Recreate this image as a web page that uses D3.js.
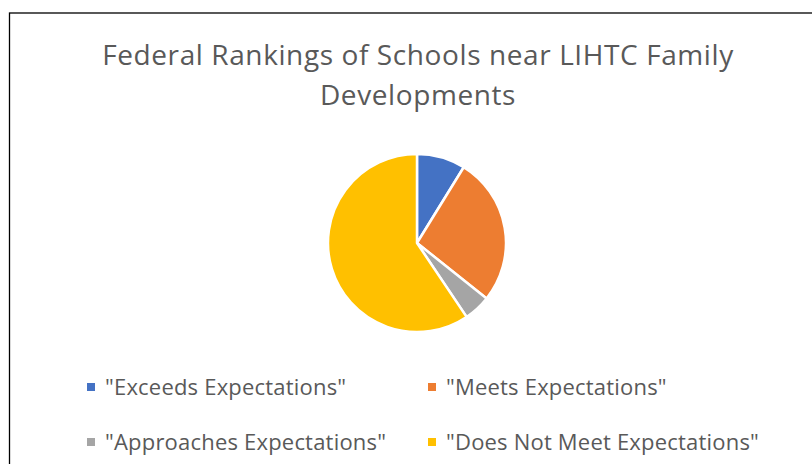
<!DOCTYPE html>
<html>
  <head>
    <meta charset="utf-8" />
    <title>Federal Rankings of Schools near LIHTC Family Developments</title>
    <script src="https://d3js.org/d3.v7.min.js"></script>
    <style>
      body {
        margin: 0;
        background: #fff;
        font-family: "Open Sans", sans-serif;
      }
    </style>
  </head>
  <body>
    <svg width="812" height="464"></svg>

    <script>
      // data
      const categories = [
        '"Exceeds Expectations"',
        '"Meets Expectations"',
        '"Approaches Expectations"',
        '"Does Not Meet Expectations"'
      ];
      const shares = [8.8, 26.9, 4.9, 59.4];
      const colors = ["#4472c4", "#ed7d31", "#a5a5a5", "#ffc000"];
      const titleLines = ["Federal Rankings of Schools near LIHTC Family", "Developments"];

      const svg = d3.select("svg");

      // chart border (runs off the right and bottom edges)
      svg.append("rect")
        .attr("x", 9.5).attr("y", 13)
        .attr("width", 900).attr("height", 600)
        .attr("fill", "#fff")
        .attr("stroke", "#000")
        .attr("stroke-width", 1.3);

      svg.append("g")
        .selectAll("text")
        .data(titleLines)
        .join("text")
        .attr("x", 418)
        .attr("y", (d, i) => 65 + i * 40)
        .attr("text-anchor", "middle")
        .attr("font-size", 28)
        .attr("letter-spacing", 0.6)
        .attr("fill", "#595959")
        .text(d => d);

      // pie
      const cx = 417, cy = 243, r = 89;
      const pie = d3.pie().sort(null).value(d => d);
      const arc = d3.arc().innerRadius(0).outerRadius(r);

      svg.append("g")
        .attr("transform", `translate(${cx},${cy})`)
        .selectAll("path")
        .data(pie(shares))
        .join("path")
        .attr("d", arc)
        .attr("fill", (d, i) => colors[i])
        .attr("stroke", "#fff")
        .attr("stroke-width", 2.5)
        .attr("stroke-linejoin", "round");

      // legend, 2 columns
      const colX = [87, 428];
      const rowY = [387, 442];
      const legend = svg.append("g")
        .selectAll("g")
        .data(categories)
        .join("g")
        .attr("transform", (d, i) => `translate(${colX[i % 2]},${rowY[Math.floor(i / 2)]})`);

      legend.append("rect")
        .attr("x", 0).attr("y", -4)
        .attr("width", 8).attr("height", 8)
        .attr("fill", (d, i) => colors[i]);

      legend.append("text")
        .attr("x", 18)
        .attr("y", 8)
        .attr("font-size", 22)
        .attr("letter-spacing", 0.2)
        .attr("fill", "#595959")
        .text(d => d);
    </script>
  </body>
</html>
